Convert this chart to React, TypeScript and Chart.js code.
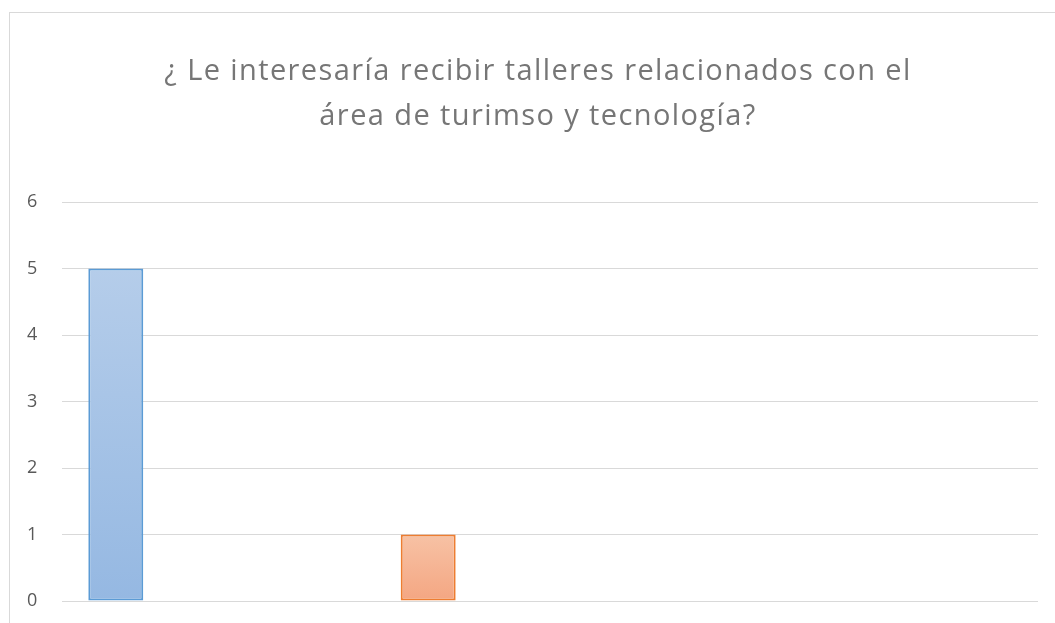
import React, { useEffect, useRef } from "react";
import { Chart, registerables } from "chart.js";

Chart.register(...registerables);

const TITLE_LINES = [
  "¿ Le interesaría recibir talleres relacionados con el",
  "área de turimso y tecnología?",
];
const CATEGORIES = ["Categoría 1", "Categoría 2", "Categoría 3", "Categoría 4"];
const SERIES_NAMES = ["Serie 1", "Serie 2", "Serie 3"];
const SERIE_1 = [5, 0, 0, 0];
const SERIE_2 = [0, 1, 0, 0];
const SERIE_3 = [0, 0, 0, 0];
const Y_MIN = 0;
const Y_MAX = 6;
const Y_STEP = 1;

const FONT = "'Open Sans', 'Noto Sans', sans-serif";

function gradientFill(top: string, bottom: string, fallback: string) {
  return (ctx: any) => {
    const chart = ctx.chart;
    const area = chart.chartArea;
    const y = chart.scales && chart.scales.y;
    const v = ctx.raw;
    if (!area || !y || !v) return fallback;
    const yTop = y.getPixelForValue(v);
    const yBot = y.getPixelForValue(0);
    const g = chart.ctx.createLinearGradient(0, yTop, 0, yBot);
    g.addColorStop(0, top);
    g.addColorStop(1, bottom);
    return g;
  };
}

export default function App() {
  const ref = useRef<HTMLCanvasElement | null>(null);

  useEffect(() => {
    if (!ref.current) return;
    const chart = new Chart(ref.current, {
      type: "bar",
      data: {
        labels: CATEGORIES,
        datasets: [
          {
            label: SERIES_NAMES[0],
            data: SERIE_1,
            backgroundColor: gradientFill("#b5cdea", "#95b8e2", "#a5c3e6"),
            borderColor: "#5b9bd5",
            borderWidth: 2,
            borderSkipped: false,
          },
          {
            label: SERIES_NAMES[1],
            data: SERIE_2,
            backgroundColor: gradientFill("#f7c2a5", "#f4a682", "#f5b493"),
            borderColor: "#ed7d31",
            borderWidth: 2,
            borderSkipped: false,
          },
          {
            label: SERIES_NAMES[2],
            data: SERIE_3,
            backgroundColor: "#c9c9c9",
            borderColor: "#a5a5a5",
            borderWidth: 2,
            borderSkipped: false,
          },
        ],
      },
      options: {
        animation: false,
        responsive: false,
        maintainAspectRatio: false,
        categoryPercentage: 0.842,
        barPercentage: 0.803,
        layout: { padding: { left: 27, right: 17, top: 202, bottom: 22 } },
        plugins: {
          legend: { display: false },
          tooltip: { enabled: false },
          title: { display: false },
        },
        scales: {
          x: {
            display: false,
          },
          y: {
            min: Y_MIN,
            max: Y_MAX,
            border: { display: false },
            grid: {
              color: "#d9d9d9",
              lineWidth: 1,
              drawTicks: true,
              tickLength: 25,
              tickColor: "rgba(0,0,0,0)",
            },
            ticks: {
              stepSize: Y_STEP,
              padding: 0,
              color: "#595959",
              font: { family: FONT, size: 18 },
            },
          },
        },
      } as any,
    });
    return () => chart.destroy();
  }, []);

  return (
    <div
      style={{
        position: "fixed",
        left: 0,
        top: 0,
        width: 1055,
        height: 623,
        overflow: "hidden",
        background: "#ffffff",
      }}
    >
      <div
        style={{
          position: "absolute",
          left: 9,
          top: 12,
          width: 1100,
          height: 700,
          borderLeft: "1px solid #d9d9d9",
          borderTop: "1px solid #d9d9d9",
        }}
      />
      <canvas
        ref={ref}
        width={1055}
        height={623}
        style={{ position: "absolute", left: 0, top: 0, width: 1055, height: 623 }}
      />
      <div
        style={{
          position: "absolute",
          left: 0,
          top: 46,
          width: 1076,
          textAlign: "center",
          fontFamily: FONT,
          fontSize: 29,
          lineHeight: "45px",
          letterSpacing: "1.4px",
          color: "#767676",
          whiteSpace: "nowrap",
        }}
      >
        {TITLE_LINES.map((line, i) => (
          <div key={i}>{line}</div>
        ))}
      </div>
    </div>
  );
}
